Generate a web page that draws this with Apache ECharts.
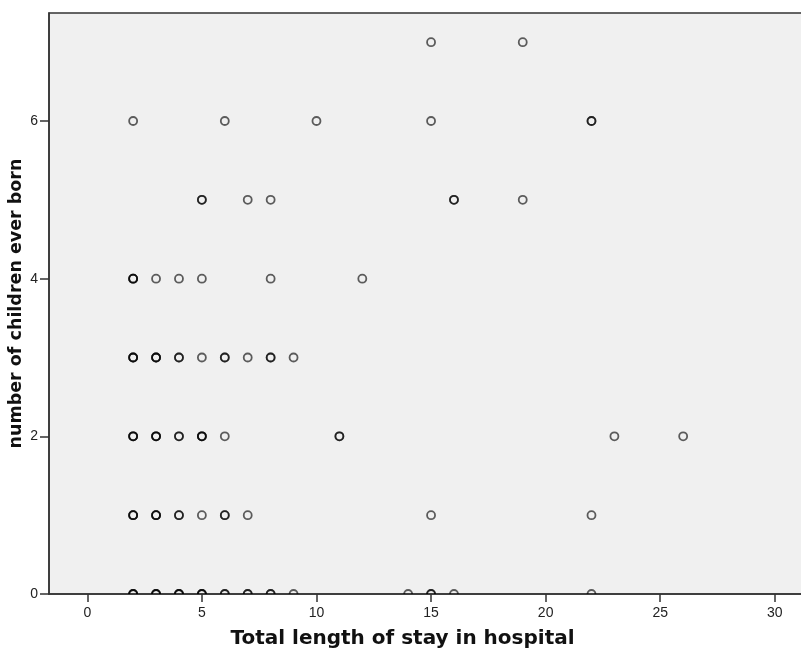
<!DOCTYPE html>
<html><head><meta charset="utf-8">
<script src="https://cdn.jsdelivr.net/npm/echarts@6/dist/echarts.min.js"></script>
<style>html,body{margin:0;padding:0;background:#fff}#c{width:801px;height:657px}</style>
</head><body><div id="c"></div>
<script>
// Total length of stay in hospital (x), number of children ever born (y), number of overlapping cases
const stayDays =     [15,19, 2,6,10,15,22, 5,7,8,16,19, 2,3,4,5,8,12, 2,3,4,5,6,7,8,9, 2,3,4,5,6,11,23,26, 2,3,4,5,6,7,15,22, 2,3,4,5,6,7,8,9,14,15,16,22];
const childrenBorn = [7,7, 6,6,6,6,6, 5,5,5,5,5, 4,4,4,4,4,4, 3,3,3,3,3,3,3,3, 2,2,2,2,2,2,2,2, 1,1,1,1,1,1,1,1, 0,0,0,0,0,0,0,0,0,0,0,0];
const caseCounts =   [1,1, 1,1,1,1,2, 2,1,1,2,1, 3,1,1,1,1,1, 3,3,2,1,2,1,2,1, 3,3,2,3,1,2,1,1, 3,3,2,1,2,1,1,1, 3,3,3,3,2,2,2,1,1,2,1,1];
const xTicks = [0,5,10,15,20,25,30];
const yTicks = [0,2,4,6];

const pts = [];
stayDays.forEach((x,i)=>{ for(let k=0;k<caseCounts[i];k++) pts.push([x, childrenBorn[i]]); });

const chart = echarts.init(document.getElementById('c'), null, {renderer:'canvas'});
const axisText = {color:'#222', fontFamily:'Arial, "Liberation Sans", sans-serif', fontSize:14};
chart.setOption({
  animation:false,
  backgroundColor:'#ffffff',
  grid:{left:49, top:13, right:-5, bottom:63, outerBoundsMode:'none', containLabel:false,
        show:true, backgroundColor:'#f0f0f0', borderColor:'#333', borderWidth:1.5},
  xAxis:{
    type:'value', min:-1.671, max:31.36,
    name:'Total length of stay in hospital', nameLocation:'middle', nameGap:35, nameMoveOverlap:false,
    nameTextStyle:{fontFamily:'"DejaVu Sans", Verdana, sans-serif', fontWeight:'bold', fontSize:20, color:'#111', padding:[0,50,0,0]},
    axisLine:{show:true, onZero:false, lineStyle:{color:'#333', width:1.5}},
    axisTick:{show:true, length:8, customValues:xTicks, lineStyle:{color:'#333', width:1.5}},
    axisLabel:{customValues:xTicks, margin:12, ...axisText},
    splitLine:{show:false}
  },
  yAxis:{
    type:'value', min:0, max:7.37,
    name:'number of children ever born', nameLocation:'middle', nameGap:24, nameRotate:90, nameMoveOverlap:false,
    nameTextStyle:{fontFamily:'"DejaVu Sans", Verdana, sans-serif', fontWeight:'bold', fontSize:17.5, color:'#111'},
    axisLine:{show:true, onZero:false, lineStyle:{color:'#333', width:1.5}},
    axisTick:{show:true, length:9, customValues:yTicks, lineStyle:{color:'#333', width:1.5}},
    axisLabel:{customValues:yTicks, margin:11, ...axisText},
    splitLine:{show:false}
  },
  series:[{
    type:'custom', data:pts, clip:true, z:1,
    renderItem:function(params, api){
      const p = api.coord([api.value(0), api.value(1)]);
      return {type:'circle', shape:{cx:p[0], cy:p[1], r:4},
              style:{fill:'none', stroke:'rgba(0,0,0,0.62)', lineWidth:1.8}};
    }
  }]
});
</script></body></html>
